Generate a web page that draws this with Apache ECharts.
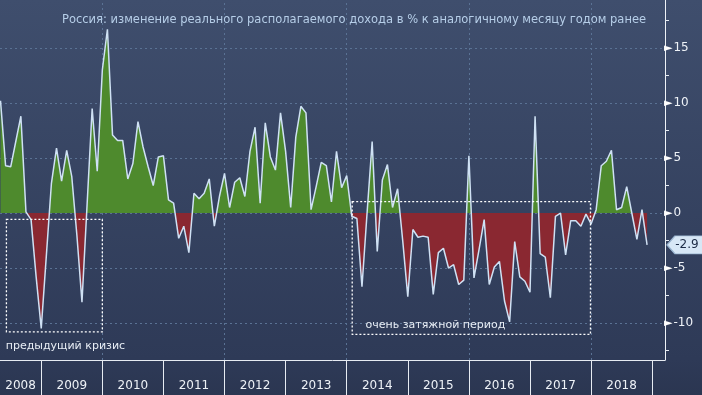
<!DOCTYPE html>
<html><head><meta charset="utf-8">
<script src="https://cdn.jsdelivr.net/npm/echarts@6/dist/echarts.min.js"></script>
<style>html,body{margin:0;padding:0;background:#2d3a56}#c{width:702px;height:395px}</style>
</head><body><div id="c"></div>
<script>
const titleText = 'Россия: изменение реального располагаемого дохода в % к аналогичному месяцу годом ранее';
const startYear = 2008;
const startMonth = 4; // first plotted month (month-end), April 2008
const values = [
  10.2, 4.3, 4.2, 6.5, 8.8, 0.1, -0.6, -5.8, -10.5, -3.9,
  2.7, 5.9, 2.9, 5.7, 3.3, -2.0, -8.1, 0.7, 9.5, 3.8,
  13.0, 16.7, 7.1, 6.6, 6.6, 3.1, 4.5, 8.3, 6.0, 4.2,
  2.5, 5.1, 5.2, 1.2, 0.9, -2.3, -1.2, -3.6, 1.8, 1.3,
  1.8, 3.1, -1.2, 1.5, 3.6, 0.5, 2.8, 3.2, 1.5, 5.6,
  7.8, 0.9, 8.2, 5.1, 3.9, 9.1, 5.6, 0.5, 6.9, 9.7,
  9.1, 0.3, 2.4, 4.6, 4.3, 1.0, 5.6, 2.3, 3.4, -0.3,
  -0.5, -6.7, 0.0, 6.5, -3.5, 3.0, 4.4, 0.5, 2.2, -2.5,
  -7.6, -1.5, -2.2, -2.1, -2.2, -7.4, -3.6, -3.2, -5.0, -4.7,
  -6.5, -6.1, 5.2, -5.9, -3.3, -0.6, -6.5, -4.9, -4.4, -8.0,
  -9.9, -2.6, -5.8, -6.2, -7.2, 8.8, -3.7, -4.0, -7.7, -0.3,
  0.0, -3.8, -0.7, -0.7, -1.2, -0.1, -1.0, 0.3, 4.3, 4.7,
  5.7, 0.3, 0.5, 2.4, 0.0, -2.4, 0.3, -2.9
];
const yearLabels = ['2008','2009','2010','2011','2012','2013','2014','2015','2016','2017','2018'];
const yearSeparators = [2009,2010,2011,2012,2013,2014,2015,2016,2017,2018,2019];
const yTickLabels = [-10, -5, 0, 5, 10, 15];
const yMinorTicks = [-12.5, -7.5, -2.5, 2.5, 7.5, 12.5, 17.5];
const yGridLines = [-10, -5, 0, 5, 10, 15];
const xGridYears = [2010, 2012, 2014, 2016, 2018];
const boxNames = ['предыдущий кризис', 'очень затяжной период'];
const boxX = [[2008.43, 2010.0], [2014.09, 2017.99]];
const boxY = [[-0.57, -10.8], [1.03, -11.03]];

const X_MIN = 2008.325, X_MAX = 2019.21;
const Y_MIN = -13.36, Y_MAX = 19.36;
const FONT = 'DejaVu Sans';

const points = values.map((v, i) => [startYear + (startMonth + i) / 12, v]);
const labelPos = yearLabels.map(y => {
  const a = Math.max(+y, X_MIN), b = Math.min(+y + 1, 2019);
  return (a + b) / 2;
});
const lastValue = values[values.length - 1];

const chart = echarts.init(document.getElementById('c'), null, {renderer: 'canvas'});
chart.setOption({
  animation: false,
  backgroundColor: {type: 'linear', x: 0, y: 0, x2: 0, y2: 1, colorStops: [
    {offset: 0, color: '#3f4e6d'}, {offset: 0.91, color: '#2e3a57'}, {offset: 1, color: '#2b3651'}]},
  title: {
    text: titleText, left: 57, top: 9,
    textStyle: {color: '#b6cee8', fontSize: 11.5, fontWeight: 'normal', fontFamily: FONT}
  },
  grid: {left: 0, right: 37, top: 0, bottom: 35},
  visualMap: {
    type: 'piecewise', show: false, dimension: 1, seriesIndex: 0,
    pieces: [{gt: 0, lte: 100, color: '#4e8a2d'}, {gt: -100, lte: 0, color: '#8a2831'}]
  },
  xAxis: {
    type: 'value', min: X_MIN, max: X_MAX,
    axisLine: {show: true, onZero: false, lineStyle: {color: '#e6ebf2', width: 1}},
    axisTick: {show: true, customValues: yearSeparators, length: 35, inside: false,
      lineStyle: {color: '#e6ebf2', width: 1}},
    axisLabel: {customValues: labelPos, formatter: v => String(Math.floor(v)),
      color: '#eef2f7', fontSize: 12, fontFamily: FONT, margin: 20},
    splitLine: {show: false}
  },
  yAxis: {
    type: 'value', position: 'right', min: Y_MIN, max: Y_MAX,
    axisLine: {show: true, lineStyle: {color: '#eef2f7', width: 1}},
    axisTick: {show: true, customValues: yMinorTicks, length: 4, inside: false,
      lineStyle: {color: '#e6ebf2'}},
    axisLabel: {customValues: yTickLabels, margin: -1,
      formatter: v => '{t|►}' + v,
      color: '#eef2f7', fontSize: 12, fontFamily: FONT,
      rich: {t: {fontSize: 11, color: '#ffffff', padding: [0, 1, 0, 0], fontFamily: FONT}}},
    splitLine: {show: false}
  },
  series: [
    {
      type: 'line', data: points, symbol: 'none', z: 2,
      lineStyle: {width: 0, opacity: 0},
      areaStyle: {opacity: 1},
      markLine: {
        silent: true, symbol: 'none', z: 1, animation: false,
        label: {show: false},
        lineStyle: {type: [2, 3], color: '#5a7294', width: 1},
        data: yGridLines.map(v => ({yAxis: v})).concat(xGridYears.map(v => ({xAxis: v})))
      }
    },
    {
      type: 'line', data: points, symbol: 'none', z: 3,
      lineStyle: {color: '#cfe1f4', width: 1.5},
      markArea: {
        silent: true, z: 4,
        itemStyle: {color: 'rgba(0,0,0,0)', borderColor: '#ffffff', borderWidth: 1.3, borderType: [2, 2]},
        label: {show: true, color: '#e8eef5', fontSize: 11, fontFamily: FONT},
        data: [
          [{name: boxNames[0], xAxis: boxX[0][0], yAxis: boxY[0][0],
            label: {position: ['0%', '100%'], offset: [0, 8], align: 'left', verticalAlign: 'top'}},
           {xAxis: boxX[0][1], yAxis: boxY[0][1]}],
          [{name: boxNames[1], xAxis: boxX[1][0], yAxis: boxY[1][0],
            label: {position: ['0%', '100%'], offset: [14, -15], align: 'left', verticalAlign: 'top'}},
           {xAxis: boxX[1][1], yAxis: boxY[1][1]}]
        ]
      },
      markPoint: {
        silent: true, z: 6,
        symbol: 'path://M0,9L8,0L44,0L44,18L8,18Z', symbolSize: [44, 18], symbolOffset: [24, 0],
        symbolKeepAspect: false,
        itemStyle: {color: '#d7e7f6', borderColor: '#9ab5d0', borderWidth: 1},
        label: {show: true, position: 'inside', offset: [-2, 0], color: '#1c2b45', fontSize: 12, fontFamily: FONT,
          formatter: () => lastValue.toFixed(1)},
        data: [{coord: [X_MAX, lastValue], value: lastValue}]
      }
    }
  ]
});
</script>
</body></html>
